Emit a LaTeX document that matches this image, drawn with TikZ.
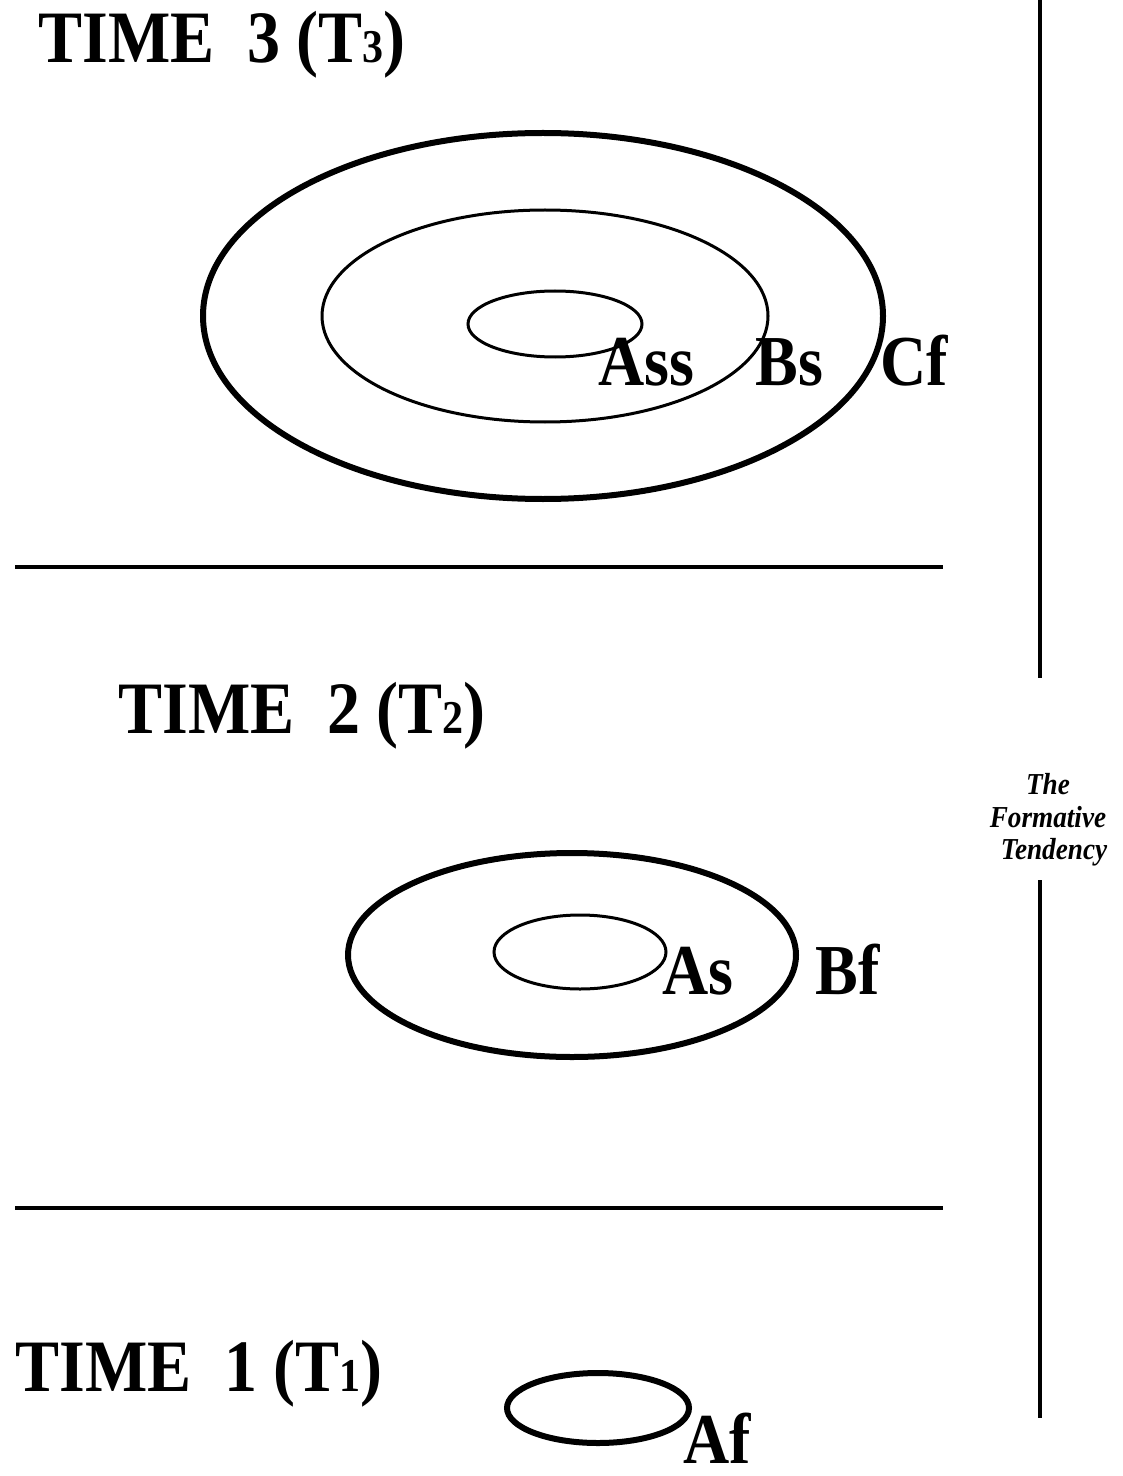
\documentclass[tikz,border=0pt]{standalone}
\usepackage{fontspec}
\setmainfont{Liberation Serif}
\begin{document}
\begin{tikzpicture}[x=0.5pt,y=-0.5pt,
  thickring/.style={line width=3pt},
  thinring/.style={line width=1.5pt},
  rule/.style={line width=2pt},
  timelabel/.style={anchor=base west,inner sep=0pt,font=\fontsize{33}{36}\selectfont\bfseries},
  setlabel/.style={anchor=base west,inner sep=0pt,font=\fontsize{32}{36}\selectfont\bfseries},
  sidelabel/.style={anchor=base,inner sep=0pt,font=\fontsize{13.6}{16}\selectfont\bfseries\itshape}]
\newcommand{\smallsub}[1]{{\fontsize{21}{21}\selectfont #1}}
\newcommand{\tall}[1]{\scalebox{1}[1.12]{#1}}
\useasboundingbox (0,0) rectangle (1123,1476);
% time labels
\node[timelabel] (t3) at (38,63) {\tall{TIME\ \ 3 (T\smallsub{3})}};
\node[timelabel] (t2) at (118,733) {\tall{TIME\ \ 2 (T\smallsub{2})}};
\node[timelabel] (t1) at (15,1391) {\tall{TIME\ \ 1 (T\smallsub{1})}};
% separators
\coordinate (s1a) at (15,567); \coordinate (s1b) at (943,567);
\coordinate (s2a) at (15,1208); \coordinate (s2b) at (943,1208);
\draw[rule] (s1a) -- (s1b);
\draw[rule] (s2a) -- (s2b);
% vertical axis
\coordinate (v1) at (1040,0); \coordinate (v2) at (1040,678);
\coordinate (v3) at (1040,880); \coordinate (v4) at (1040,1418);
\draw[rule] (v1) -- (v2);
\draw[rule] (v3) -- (v4);
\node[sidelabel] (ft1) at (1048,794) {\tall{The}};
\node[sidelabel] (ft2) at (1048,827) {\tall{Formative}};
\node[sidelabel] (ft3) at (1054,859) {\tall{Tendency}};
% time 3
\draw[thickring] (543,316) ellipse [x radius=340,y radius=183];
\draw[thinring] (545,316) ellipse [x radius=223,y radius=106];
\draw[thinring] (555,324) ellipse [x radius=87,y radius=33];
\node[setlabel] (ass) at (598,386) {\tall{Ass}};
\node[setlabel] (bs) at (755,386) {\tall{Bs}};
\node[setlabel] (cf) at (880,386) {\tall{Cf}};
% time 2
\draw[thickring] (572,955) ellipse [x radius=224,y radius=102];
\draw[thinring] (580,952) ellipse [x radius=86,y radius=37];
\node[setlabel] (as) at (662,994) {\tall{As}};
\node[setlabel] (bf) at (815,994) {\tall{Bf}};
% time 1
\draw[thickring] (598,1408) ellipse [x radius=91,y radius=35];
\node[setlabel] (af) at (683,1463) {\tall{Af}};
\end{tikzpicture}
\end{document}
